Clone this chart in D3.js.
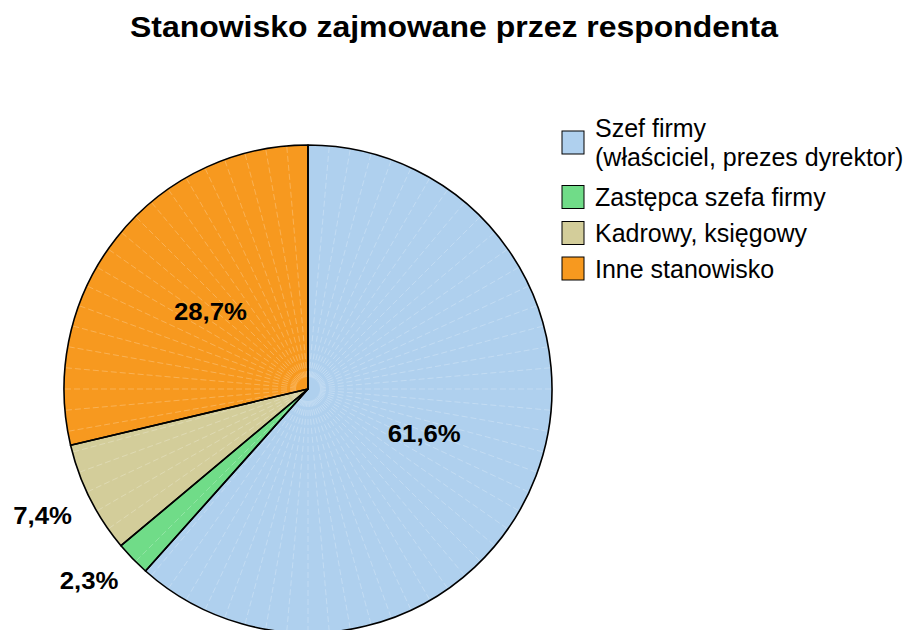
<!DOCTYPE html>
<html>
<head>
<meta charset="utf-8">
<script src="https://cdn.jsdelivr.net/npm/d3@7"></script>
<style>
  html, body { margin: 0; padding: 0; background: #fff; }
  svg { display: block; font-family: "Liberation Sans", Arial, sans-serif; }
</style>
</head>
<body>
<svg id="chart" width="913" height="630"></svg>
<script>
const title = "Stanowisko zajmowane przez respondenta";
const categories = ["Szef firmy|(właściciel, prezes dyrektor)", "Zastępca szefa firmy", "Kadrowy, księgowy", "Inne stanowisko"];
const values = [61.6, 2.3, 7.4, 28.7];
const valueLabels = ["61,6%", "2,3%", "7,4%", "28,7%"];
const colors = ["#AFD0EE", "#70DC88", "#D3CD9A", "#F7991F"];

const svg = d3.select("#chart");
const cx = 308, cy = 389, R = 244;

svg.append("text")
  .attr("x", 454).attr("y", 36.7)
  .attr("text-anchor", "middle")
  .attr("font-weight", "bold")
  .attr("font-size", 29)
  .attr("textLength", 648)
  .attr("lengthAdjust", "spacingAndGlyphs")
  .text(title);

const pie = d3.pie().sort(null).value(d => d)(values);
const arc = d3.arc().innerRadius(0).outerRadius(R);
const g = svg.append("g").attr("transform", `translate(${cx},${cy})`);

g.selectAll("path.slice").data(pie).join("path")
  .attr("class", "slice")
  .attr("d", arc)
  .attr("fill", (d, i) => colors[i]);

// faint radial rendering lines
const rays = d3.range(0, 360, 5);
g.selectAll("line.ray").data(rays).join("line")
  .attr("x1", a => 12 * Math.sin(a * Math.PI / 180))
  .attr("y1", a => -12 * Math.cos(a * Math.PI / 180))
  .attr("x2", a => R * Math.sin(a * Math.PI / 180))
  .attr("y2", a => -R * Math.cos(a * Math.PI / 180))
  .attr("stroke", "#fff")
  .attr("stroke-opacity", 0.3)
  .attr("stroke-width", 0.8)
  .attr("stroke-dasharray", "6,3");

g.selectAll("path.outline").data(pie).join("path")
  .attr("class", "outline")
  .attr("d", arc)
  .attr("fill", "none")
  .attr("stroke", "#000")
  .attr("stroke-width", 1.6)
  .attr("stroke-linejoin", "round");

// value labels: inside for large slices, outside (corner anchored) for small ones
const lblSize = 23, capH = lblSize * 0.716, gap = 20;
g.selectAll("text.lbl").data(pie).join("text")
  .attr("class", "lbl")
  .attr("font-weight", "bold")
  .attr("font-size", lblSize)
  .text((d, i) => valueLabels[i])
  .each(function(d) {
    const a = (d.startAngle + d.endAngle) / 2;
    const s = Math.sin(a), c = -Math.cos(a);
    const t = d3.select(this);
    const w = this.getComputedTextLength() * 1.12;
    t.attr("textLength", w).attr("lengthAdjust", "spacingAndGlyphs");
    if (d.value > 10) {
      const rr = 0.51 * R;
      t.attr("text-anchor", "middle")
       .attr("x", rr * s).attr("y", rr * c + capH / 2);
    } else {
      const px = (R + gap) * s, py = (R + gap) * c;
      t.attr("text-anchor", s < 0 ? "end" : "start")
       .attr("x", px)
       .attr("y", c > 0 ? py + capH : py);
    }
  });

// legend
const lg = svg.append("g");
const rowY = [142.5, 197, 233, 268.5];
categories.forEach((cat, i) => {
  lg.append("rect")
    .attr("x", 562).attr("y", rowY[i] - 11.5)
    .attr("width", 22).attr("height", 23)
    .attr("fill", colors[i]).attr("stroke", "#000").attr("stroke-width", 1);
  const lines = cat.split("|");
  const t = lg.append("text").attr("font-size", 25).attr("fill", "#000");
  lines.forEach((ln, j) => {
    t.append("tspan")
      .attr("x", 595)
      .attr("y", rowY[i] + 9 + (j - (lines.length - 1) / 2) * 29)
      .text(ln);
  });
});
</script>
</body>
</html>
